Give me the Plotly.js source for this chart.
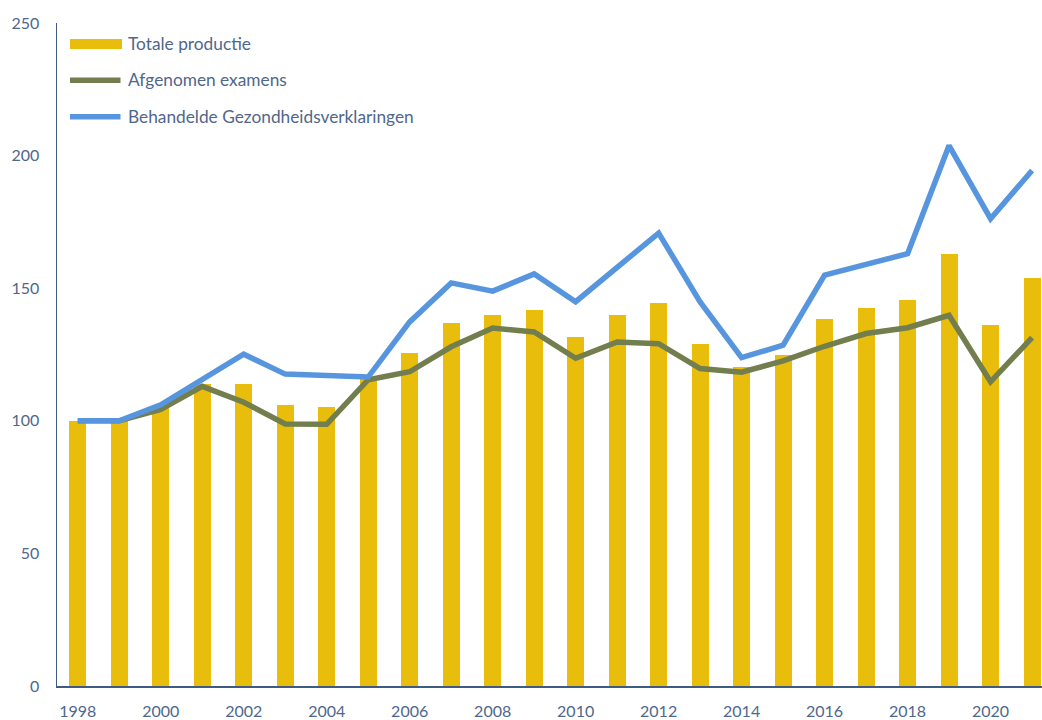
<!DOCTYPE html>
<html>
<head>
<meta charset="utf-8">
<script src="https://cdn.plot.ly/plotly-3.0.1.min.js"></script>
<style>html,body{margin:0;padding:0;background:#fff;}#chart{width:1042px;height:720px;}</style>
</head>
<body>
<div id="chart"></div>
<script>
const years = [1998,1999,2000,2001,2002,2003,2004,2005,2006,2007,2008,2009,2010,2011,2012,2013,2014,2015,2016,2017,2018,2019,2020,2021];
const totaleProductie = [100,100,106,114,113.7,106,105.3,115.9,125.5,136.8,140,141.7,131.7,140,144.3,128.9,120.1,124.7,138.2,142.7,145.6,162.8,136,153.7];
const afgenomenExamens = [100,100,104.3,113,107,98.8,98.7,115.5,118.5,127.9,135,133.5,123.6,129.7,129.1,119.7,118.3,122.6,128.1,132.9,135.1,139.8,114.7,131.4];
const gezondheidsverklaringen = [100,100,106,115.5,125.1,117.6,116.8,116.5,137.3,152,148.9,155.4,144.9,157.8,170.8,144.8,123.8,128.5,154.9,159,163,203.8,176.2,194.4];
const seriesNames = ["Totale productie","Afgenomen examens","Behandelde Gezondheidsverklaringen"];
const xTickVals = [1998,2000,2002,2004,2006,2008,2010,2012,2014,2016,2018,2020];
const yTickVals = [0,50,100,150,200,250];

const cBar = "#E9BD0B", cGreen = "#737E4E", cBlue = "#5796DE";
const txt = "#4F678C", axisCol = "#3F5B82";
const font = "Lato, 'Source Sans Pro', sans-serif";

const traces = [
  {type:"bar", x:years, y:totaleProductie, name:seriesNames[0], width:0.41,
   marker:{color:cBar}, showlegend:false, hoverinfo:"x+y"},
  {type:"scatter", mode:"lines", x:years, y:afgenomenExamens, name:seriesNames[1],
   line:{color:cGreen, width:5.5}, showlegend:false},
  {type:"scatter", mode:"lines", x:years, y:gezondheidsverklaringen, name:seriesNames[2],
   line:{color:cBlue, width:5.5}, showlegend:false}
];

// legend drawn as decorations in paper coordinates
const L = 57, W = 985, B = 686, H = 663.5;
const px = v => (v - L) / W, py = v => (B - v) / H;
const shapes = [
  {type:"rect", xref:"paper", yref:"paper", x0:px(70), x1:px(122), y0:py(38.5), y1:py(48.5), fillcolor:cBar, line:{width:0}},
  {type:"line", xref:"paper", yref:"paper", x0:px(70), x1:px(120.5), y0:py(79.7), y1:py(79.7), line:{color:cGreen, width:5.5}},
  {type:"line", xref:"paper", yref:"paper", x0:px(70), x1:px(120.5), y0:py(116.3), y1:py(116.3), line:{color:cBlue, width:5.5}}
];
const legY = [43, 79.5, 116];
const annotations = seriesNames.map((n,i)=>({
  xref:"paper", yref:"paper", x:px(126), y:py(legY[i]), xanchor:"left", yanchor:"middle",
  text:n, showarrow:false, font:{family:font, size:17.3, color:txt}
}));

const layout = {
  width:1042, height:720,
  margin:{l:57, r:0, t:22.5, b:34, pad:0},
  paper_bgcolor:"#fff", plot_bgcolor:"#fff",
  font:{family:font, size:16, color:txt},
  showlegend:false,
  bargap:0,
  xaxis:{range:[1997.5, 2021.24], tickmode:"array", tickvals:xTickVals, ticktext:xTickVals.map(String),
    showgrid:false, zeroline:false, showline:true, linecolor:axisCol, linewidth:1.5,
    ticks:"", ticklabelstandoff:10, tickfont:{family:font, size:16, color:txt}},
  yaxis:{range:[0,250], tickmode:"array", tickvals:yTickVals, ticktext:yTickVals.map(String),
    showgrid:false, zeroline:false, showline:true, linecolor:axisCol, linewidth:1.5,
    ticks:"", ticklabelstandoff:13, tickfont:{family:font, size:16, color:txt}},
  shapes:shapes, annotations:annotations
};
Plotly.newPlot("chart", traces, layout, {displayModeBar:false, staticPlot:true});
</script>
</body>
</html>
